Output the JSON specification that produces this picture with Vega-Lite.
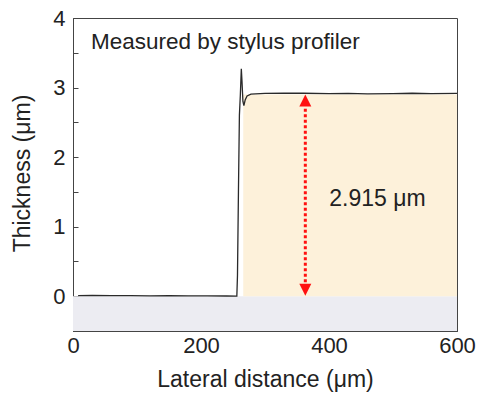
{
  "$schema": "https://vega.github.io/schema/vega-lite/v6.json",
  "autosize": {"type": "none"},
  "padding": {"left": 73, "top": 18, "right": 23, "bottom": 69},
  "width": 384,
  "height": 313,
  "config": {
    "view": {"stroke": "#444", "strokeWidth": 1},
    "font": "Liberation Sans",
    "axis": {
      "grid": false,
      "domainColor": "#444",
      "tickColor": "#444",
      "tickSize": -5,
      "labelFlush": false,
      "labelOverlap": false,
      "labelFont": "Liberation Sans",
      "labelFontSize": 22,
      "labelColor": "#222",
      "titleFont": "Liberation Sans",
      "titleFontSize": 23,
      "titleFontWeight": "normal",
      "titleColor": "#222"
    }
  },
  "datasets": {
    "regions": [
      {"kind": "substrate", "x1": 0, "x2": 600, "y1": -0.5, "y2": 0},
      {"kind": "film", "x1": 266, "x2": 600, "y1": 0, "y2": 2.9}
    ],
    "profile": [
      {"x": 8, "y": 0.01}, {"x": 30, "y": 0.012}, {"x": 60, "y": 0.008}, {"x": 90, "y": 0.01},
      {"x": 120, "y": 0.006}, {"x": 150, "y": 0.01}, {"x": 180, "y": 0.004}, {"x": 210, "y": 0.006},
      {"x": 240, "y": 0.003}, {"x": 256, "y": 0.002}, {"x": 257, "y": 0.3}, {"x": 258.5, "y": 1.5},
      {"x": 260, "y": 2.6}, {"x": 261.5, "y": 2.9}, {"x": 263, "y": 3.27}, {"x": 264, "y": 3.1},
      {"x": 265.5, "y": 2.8}, {"x": 267, "y": 2.74}, {"x": 269, "y": 2.82}, {"x": 272, "y": 2.88},
      {"x": 278, "y": 2.905}, {"x": 300, "y": 2.915}, {"x": 330, "y": 2.92}, {"x": 360, "y": 2.918},
      {"x": 400, "y": 2.912}, {"x": 430, "y": 2.915}, {"x": 460, "y": 2.91}, {"x": 500, "y": 2.913},
      {"x": 530, "y": 2.918}, {"x": 560, "y": 2.912}, {"x": 600, "y": 2.915}
    ],
    "arrow": [{"x": 363, "y1": 0.2, "y2": 2.72}],
    "heads": [
      {"x": 363, "y": 2.815, "dir": "up"},
      {"x": 363, "y": 0.094, "dir": "down"}
    ],
    "labels": [
      {"x": 28, "y": 3.553, "text": "Measured by stylus profiler", "kind": "title"},
      {"x": 400.5, "y": 1.293, "text": "2.915 μm", "kind": "value"}
    ]
  },
  "layer": [
    {
      "data": {"name": "regions"},
      "mark": {"type": "rect"},
      "encoding": {
        "x": {"field": "x1", "type": "quantitative", "scale": {"domain": [0, 600], "nice": false},
          "axis": {"values": [0, 100, 200, 300, 400, 500, 600], "tickCount": 20, "labelExpr": "datum.value % 200 === 0 ? format(datum.value, 'd') : ''", "labelPadding": 9, "title": "Lateral distance (μm)", "titleBaseline": "alphabetic", "titleX": 192, "titleY": 55.7}},
        "x2": {"field": "x2"},
        "y": {"field": "y1", "type": "quantitative", "scale": {"domain": [-0.5, 4], "nice": false},
          "axis": {"values": [-0.5, 0, 0.5, 1, 1.5, 2, 2.5, 3, 3.5, 4], "tickCount": 20, "labelExpr": "datum.value % 1 === 0 ? format(datum.value, 'd') : ''", "labelPadding": 13, "title": "Thickness (μm)", "titleBaseline": "alphabetic", "titleX": -43.7, "titleY": 155}},
        "y2": {"field": "y2"},
        "color": {"field": "kind", "type": "nominal", "scale": {"domain": ["substrate", "film"], "range": ["#ECECF2", "#FDF1DA"]}, "legend": null}
      }
    },
    {
      "data": {"name": "profile"},
      "mark": {"type": "line", "color": "#2a2a2a", "strokeWidth": 1.3},
      "encoding": {
        "x": {"field": "x", "type": "quantitative"},
        "y": {"field": "y", "type": "quantitative"}
      }
    },
    {
      "data": {"name": "arrow"},
      "mark": {"type": "rule", "color": "#FF1010", "strokeWidth": 3, "strokeDash": [3, 2.5]},
      "encoding": {
        "x": {"field": "x", "type": "quantitative"},
        "y": {"field": "y1", "type": "quantitative"},
        "y2": {"field": "y2"}
      }
    },
    {
      "data": {"name": "heads"},
      "mark": {"type": "point", "filled": true, "color": "#FF1010", "opacity": 1, "size": 144, "strokeWidth": 0},
      "encoding": {
        "x": {"field": "x", "type": "quantitative"},
        "y": {"field": "y", "type": "quantitative"},
        "shape": {"field": "dir", "type": "nominal", "scale": {"domain": ["up", "down"], "range": ["M0,-1L-1,1L1,1Z", "M0,1L-1,-1L1,-1Z"]}, "legend": null}
      }
    },
    {
      "data": {"name": "labels"},
      "mark": {"type": "text", "align": "left", "baseline": "alphabetic", "color": "#222", "font": "Liberation Sans"},
      "encoding": {
        "x": {"field": "x", "type": "quantitative"},
        "y": {"field": "y", "type": "quantitative"},
        "text": {"field": "text"},
        "size": {"field": "kind", "type": "nominal", "scale": {"domain": ["title", "value"], "range": [22.5, 23]}, "legend": null}
      }
    }
  ]
}
